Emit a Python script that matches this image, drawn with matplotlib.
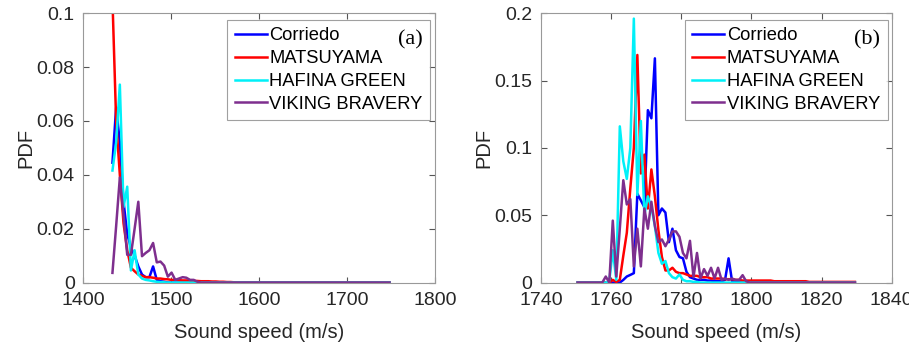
#! /usr/bin/env python
""" Sound speed PDFs for four ships, two panels (a) and (b). """
import matplotlib
matplotlib.use("Agg")
import matplotlib.pyplot as plt
import numpy as np

ships = ["Corriedo", "MATSUYAMA", "HAFINA GREEN", "VIKING BRAVERY"]
colors = ["#0000ff", "#ff0000", "#00f0f8", "#7e2f8e"]

# panel (a): bin centres start at 1433.5 with 4.2 m/s step, up to 1748
a_start, a_step, a_end = 1433.5, 4.2, 1748.0
a_corriedo = [0.0445, 0.065, 0.052, 0.030, 0.018, 0.013, 0.010, 0.006, 0.003,
              0.002, 0.002, 0.006, 0.001, 0.0005, 0.0003]
a_matsuyama = [0.105, 0.060, 0.040, 0.022, 0.012, 0.0055, 0.0042, 0.003, 0.0025,
               0.002, 0.002, 0.0018, 0.0015, 0.0015, 0.0013, 0.0012, 0.001,
               0.001, 0.0009, 0.0008, 0.0008, 0.0007, 0.0006, 0.0006, 0.0005,
               0.0005, 0.0005, 0.0004, 0.0004, 0.0003, 0.0003, 0.0002, 0.0002,
               0.0001]
a_hafina = [0.0416, 0.052, 0.0735, 0.028, 0.0356, 0.0045, 0.012, 0.003, 0.0015,
            0.001, 0.0008, 0.0005, 0.0003, 0.0002, 0.0001]
a_viking = [0.0036, 0.021, 0.039, 0.025, 0.0103, 0.0103, 0.020, 0.030, 0.0098,
            0.011, 0.012, 0.0147, 0.0075, 0.0078, 0.0063, 0.0022, 0.0037, 0.001,
            0.0015, 0.002, 0.0018, 0.001, 0.001, 0.0003]

# panel (b): bin centres start at 1750.5 with 1 m/s step, up to 1829.5
b_start, b_step, b_end = 1750.5, 1.0, 1829.5
b_corriedo = [0, 0, 0, 0, 0, 0, 0, 0, 0, 0, 0, 0, 0, 0.002, 0.0045, 0.0057,
              0.007, 0.066, 0.061, 0.056, 0.128, 0.122, 0.1665, 0.050, 0.055,
              0.052, 0.030, 0.040, 0.024, 0.019, 0.018, 0.008, 0.004, 0.003,
              0.002, 0.002, 0.002, 0.0015, 0.0015, 0.001, 0.001, 0.001, 0.002,
              0.018, 0.001, 0.001, 0.0005, 0.0005, 0.0005]
b_matsuyama = [0, 0, 0, 0, 0, 0, 0, 0, 0, 0, 0.002, 0.0005, 0.002, 0.020,
               0.037, 0.070, 0.100, 0.169, 0.081, 0.095, 0.055, 0.084, 0.064,
               0.039, 0.019, 0.009, 0.009, 0.011, 0.008, 0.007, 0.007, 0.006,
               0.005, 0.005, 0.005, 0.004, 0.004, 0.004, 0.003, 0.003, 0.003,
               0.003, 0.0025, 0.0025, 0.0025, 0.002, 0.002, 0.0015, 0.0015,
               0.0015, 0.0015, 0.0015, 0.0015, 0.0015, 0.0015, 0.0015, 0.001,
               0.001, 0.001, 0.001, 0.001, 0.001, 0.001, 0.001, 0.001, 0.001,
               0.0005, 0.0005, 0.0005, 0.0005, 0.0005, 0.0005, 0.0005, 0.0005,
               0.0005, 0.0005, 0.0005, 0.0005, 0.0005, 0.0005]
b_hafina = [0, 0, 0, 0, 0, 0, 0, 0, 0, 0.001, 0.024, 0.002, 0.116, 0.090,
            0.077, 0.100, 0.196, 0.065, 0.120, 0.050, 0.064, 0.056, 0.042,
            0.022, 0.014, 0.016, 0.007, 0.004, 0.003, 0.006, 0.002, 0.001,
            0.001, 0.0005, 0.0005]
b_viking = [0, 0, 0, 0, 0, 0, 0, 0, 0.0045, 0, 0.046, 0.0045, 0.040, 0.076,
            0.058, 0.062, 0.012, 0.040, 0.012, 0.055, 0.040, 0.060, 0.042,
            0.030, 0.032, 0.027, 0.032, 0.038, 0.038, 0.034, 0.022, 0.018,
            0.031, 0.004, 0.022, 0.003, 0.010, 0.005, 0.011, 0.003, 0.011,
            0.002, 0.003, 0.002, 0.003, 0.002, 0.002, 0.0055, 0.001]

a_xticks = [1400, 1500, 1600, 1700, 1800]
a_yticks = [0, 0.02, 0.04, 0.06, 0.08, 0.1]
a_ylabels = ["0", "0.02", "0.04", "0.06", "0.08", "0.1"]
b_xticks = [1740, 1760, 1780, 1800, 1820, 1840]
b_yticks = [0, 0.05, 0.1, 0.15, 0.2]
b_ylabels = ["0", "0.05", "0.1", "0.15", "0.2"]

plt.rcParams["font.family"] = ["Liberation Sans", "DejaVu Sans"]


def padded(values, start, step, end):
    # bins past the listed values read as zero on the plot
    x = np.arange(start, end + step / 2, step)
    y = np.zeros(len(x))
    y[:len(values)] = values
    return x, y


def panel(ax, series, start, step, end, xlim, ylim, xticks, yticks, ylabels, tag):
    for name, values, c in zip(ships, series, colors):
        x, y = padded(values, start, step, end)
        ax.plot(x, y, color=c, lw=1.8, label=name)
    ax.set_xlim(*xlim)
    ax.set_ylim(*ylim)
    ax.set_xticks(xticks)
    ax.set_yticks(yticks)
    ax.set_yticklabels(ylabels)
    ax.tick_params(direction="in", top=True, right=True, length=4,
                   color="#555555", labelsize=14, labelcolor="#262626")
    ax.tick_params(axis="x", pad=7)
    ax.tick_params(axis="y", pad=6)
    for s in ax.spines.values():
        s.set_color("#999999")
        s.set_linewidth(0.8)
    ax.set_xlabel("Sound speed (m/s)", fontsize=14.5, color="#262626",
                  labelpad=10)
    ax.set_ylabel("PDF", fontsize=14.5, color="#262626", labelpad=1)
    leg = ax.legend(loc="upper left", bbox_to_anchor=(0.41, 0.975),
                    fontsize=13.2, frameon=True, fancybox=False, borderpad=0.4,
                    labelspacing=0.32, handlelength=1.75, handletextpad=0.15,
                    borderaxespad=0)
    leg.get_frame().set_edgecolor("#888888")
    leg.get_frame().set_linewidth(0.8)
    ax.text(0.93, 0.90, tag, transform=ax.transAxes, ha="center", va="center",
            fontsize=16, family="Liberation Serif", zorder=10)


fig = plt.figure(figsize=(9.09, 3.48), dpi=100)
ax1 = fig.add_axes([0.0913, 0.188, 0.387, 0.774])
ax2 = fig.add_axes([0.595, 0.188, 0.386, 0.774])

panel(ax1, [a_corriedo, a_matsuyama, a_hafina, a_viking], a_start, a_step, a_end,
      (1400, 1800), (0, 0.1), a_xticks, a_yticks, a_ylabels, "(a)")
panel(ax2, [b_corriedo, b_matsuyama, b_hafina, b_viking], b_start, b_step, b_end,
      (1740, 1840), (0, 0.2), b_xticks, b_yticks, b_ylabels, "(b)")

fig.savefig("out.png", dpi=100)
